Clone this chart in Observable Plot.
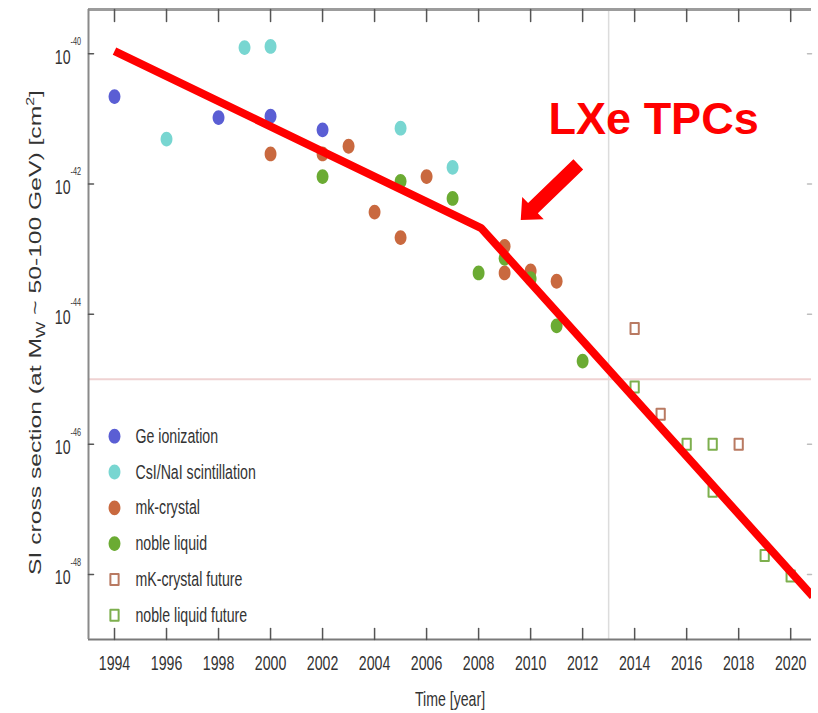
<!DOCTYPE html>
<html>
<head>
<meta charset="utf-8">
<script src="https://cdn.jsdelivr.net/npm/d3@7"></script>
<script src="https://cdn.jsdelivr.net/npm/@observablehq/plot@0.6"></script>
<style>
  html, body { margin: 0; padding: 0; background: #fff; }
  #chart svg { display: block; }
</style>
</head>
<body>
<div id="chart"></div>
<script>
// Spin-independent WIMP–nucleon cross-section limits by year and detector technology

// ---- data ----------------------------------------------------------------
const legendLabels = [
  "Ge ionization",
  "CsI/NaI scintillation",
  "mk-crystal",
  "noble liquid",
  "mK-crystal future",
  "noble liquid future"
];

const geYears = [1994, 1998, 2000, 2002];
const geSigma = [2.2e-41, 1.05e-41, 1.1e-41, 6.8e-42];

const csiYears = [1996, 1999, 2000, 2005, 2007];
const csiSigma = [4.9e-42, 1.25e-40, 1.3e-40, 7.2e-42, 1.8e-42];

const mkYears = [2000, 2002, 2003, 2004, 2005, 2006, 2009, 2009, 2010, 2011];
const mkSigma = [2.9e-42, 2.9e-42, 3.8e-42, 3.7e-43, 1.5e-43, 1.3e-42, 1.1e-43, 4.3e-44, 4.6e-44, 3.2e-44];

const nobleYears = [2002, 2005, 2007, 2008, 2009, 2010, 2011, 2012];
const nobleSigma = [1.3e-42, 1.1e-42, 6.0e-43, 4.3e-44, 7.2e-44, 3.5e-44, 6.6e-45, 1.9e-45];

const mkFutureYears = [2014, 2015, 2018];
const mkFutureSigma = [6.0e-45, 2.9e-46, 1.0e-46];

const nobleFutureYears = [2014, 2016, 2017, 2017, 2019, 2020];
const nobleFutureSigma = [7.6e-46, 1.0e-46, 1.0e-46, 1.9e-47, 1.95e-48, 9.5e-49];

// broken power-law trend drawn over the points
const trendYears = [1994, 2008.1, 2020.85];
const trendSigma = [1.1e-40, 2.1e-43, 4.6e-49];

// reference lines
const refYears = [2013];
const refSigma = [1e-45];

// axis ticks
const xTicks = d3.range(1994, 2021, 2);
const yTicks = [1e-40, 1e-42, 1e-44, 1e-46, 1e-48];

// annotation
const noteText = ["LXe TPCs"];
const noteYear = [2014.73];
const noteSigma = [9.9e-42];
const arrowTipYear = [2009.62];
const arrowTipSigma = [2.8e-43];

// ---- layout & style -------------------------------------------------------
const xDomain = [1993, 2020.8];
const yDomain = [1e-49, 4.8e-40];
const FONT = '"Liberation Sans", Arial, Helvetica, sans-serif';
const TEXT = "#333";
const SQUEEZE = 0.69;      // axis lettering is drawn narrow and tall
const TITLE_STRETCH = 1.45;
const Y_TITLE = "SI cross section";
const NOTE_FILL = "#ff0000";

const seriesStyle = [
  {fill: "#5a5ed4"},
  {fill: "#78d6d1"},
  {fill: "#c9693f"},
  {fill: "#6bab33"},
  {stroke: "#b97a62"},
  {stroke: "#7daf4e"}
];

// slightly tall ellipse for filled markers
const ellipse = {
  draw(ctx, size) {
    const r = Math.sqrt(size / Math.PI), rx = r * 0.9, ry = r * 1.12, k = 0.5523;
    ctx.moveTo(rx, 0);
    ctx.bezierCurveTo(rx, ry * k, rx * k, ry, 0, ry);
    ctx.bezierCurveTo(-rx * k, ry, -rx, ry * k, -rx, 0);
    ctx.bezierCurveTo(-rx, -ry * k, -rx * k, -ry, 0, -ry);
    ctx.bezierCurveTo(rx * k, -ry, rx, -ry * k, rx, 0);
    ctx.closePath();
  }
};
// slightly tall open square for projected sensitivities
const tallSquare = {
  draw(ctx, size) {
    const r = Math.sqrt(size / Math.PI), hx = r * 0.75, hy = r;
    ctx.moveTo(-hx, -hy);
    ctx.lineTo(hx, -hy);
    ctx.lineTo(hx, hy);
    ctx.lineTo(-hx, hy);
    ctx.closePath();
  }
};
// straight tick segment
const tickShape = {
  draw(ctx, l) { ctx.moveTo(0, 0); ctx.lineTo(0, -l); }
};
// filled block arrow
const blockArrow = {
  draw(ctx, l) {
    const sw = 7, hw = 15.5, hl = 17;
    ctx.moveTo(-sw, 0);
    ctx.lineTo(-sw, -(l - hl));
    ctx.lineTo(-hw, -(l - hl));
    ctx.lineTo(0, -l);
    ctx.lineTo(hw, -(l - hl));
    ctx.lineTo(sw, -(l - hl));
    ctx.lineTo(sw, 0);
    ctx.closePath();
  }
};

const toRows = (years, sigma) => years.map((year, i) => ({year, sigma: sigma[i]}));
const seriesRows = [
  toRows(geYears, geSigma),
  toRows(csiYears, csiSigma),
  toRows(mkYears, mkSigma),
  toRows(nobleYears, nobleSigma),
  toRows(mkFutureYears, mkFutureSigma),
  toRows(nobleFutureYears, nobleFutureSigma)
];
const trendRows = toRows(trendYears, trendSigma);

// legend rows sit in the lower-left corner, one every 0.55 decade
const legendYear = 1994;
const legendTop = 1.33e-46;
const legendRows = legendLabels.map((label, i) => ({
  label, i, year: legendYear, sigma: legendTop * Math.pow(10, -0.55 * i)
}));

const markerFor = (rows, s) => s.fill
  ? Plot.dot(rows, {x: "year", y: "sigma", r: 6.6, symbol: ellipse, fill: s.fill})
  : Plot.dot(rows, {x: "year", y: "sigma", r: 5.5, symbol: tallSquare, fill: "white", stroke: s.stroke, strokeWidth: 2, strokeLinejoin: "round"});

const seriesMarks = seriesRows.map((rows, i) => markerFor(rows, seriesStyle[i]));
const legendMarks = seriesStyle.map((s, i) => markerFor(legendRows.filter(d => d.i === i), s));

const chart = Plot.plot({
  width: 818,
  height: 713,
  marginTop: 9,
  marginRight: 7,
  marginBottom: 74,
  marginLeft: 88,
  style: {fontFamily: FONT, background: "#fff", color: TEXT, overflow: "visible"},
  x: {domain: xDomain, axis: null},
  y: {type: "log", domain: yDomain, axis: null},
  marks: [
    // reference lines
    Plot.ruleX(refYears, {stroke: "#dcdcdc", strokeWidth: 1.5}),
    Plot.ruleY(refSigma, {stroke: "#efd2d2", strokeWidth: 2}),

    // frame spines
    Plot.ruleY([yDomain[1]], {stroke: "#9c9c9c", strokeWidth: 3}),
    Plot.ruleY([yDomain[0]], {stroke: "#7a7a7a", strokeWidth: 2}),
    Plot.ruleX([xDomain[0]], {stroke: "#8a8a8a", strokeWidth: 2}),

    // inward ticks
    Plot.vector(xTicks, {x: d => d, frameAnchor: "bottom", anchor: "start", length: 11, rotate: 0, shape: tickShape, stroke: "#555", strokeWidth: 1.5}),
    Plot.vector(xTicks, {x: d => d, frameAnchor: "top", anchor: "start", length: 12, rotate: 180, shape: tickShape, stroke: "#555", strokeWidth: 1.5}),
    Plot.vector(yTicks, {y: d => d, frameAnchor: "left", anchor: "start", length: 5, rotate: 90, shape: tickShape, stroke: "#555", strokeWidth: 1.5}),
    Plot.vector(yTicks, {y: d => d, frameAnchor: "right", anchor: "start", length: 4, rotate: -90, shape: tickShape, stroke: "#bdbdbd", strokeWidth: 1.5}),

    // tick labels
    Plot.text(xTicks, {x: d => d, frameAnchor: "bottom", dy: 24, lineAnchor: "middle", text: d => String(d), fontSize: 20.5, fill: TEXT}),
    Plot.text(yTicks, {y: d => d, frameAnchor: "left", dx: -18, dy: 3.5, lineAnchor: "middle", textAnchor: "end", text: () => "10", fontSize: 20.5, fill: TEXT}),
    Plot.text(yTicks, {y: d => d, frameAnchor: "left", dx: -18, dy: -12, lineAnchor: "middle", textAnchor: "start", text: d => String(Math.round(Math.log10(d))), fontSize: 10.5, fill: TEXT}),

    // axis titles
    Plot.text(["Time [year]"], {frameAnchor: "bottom", dy: 60, lineAnchor: "middle", fontSize: 20.5, fill: TEXT}),
    Plot.text([Y_TITLE], {frameAnchor: "left", dx: -53, dy: 8, rotate: -90, lineAnchor: "middle", textAnchor: "start", fontSize: 17, fill: TEXT}),

    // measurements and projections
    ...seriesMarks,

    // legend
    ...legendMarks,
    Plot.text(legendRows, {x: "year", y: "sigma", text: "label", dx: 21, textAnchor: "start", lineAnchor: "middle", fontSize: 20.5, fill: TEXT}),

    // trend and annotation
    Plot.line(trendRows, {x: "year", y: "sigma", stroke: NOTE_FILL, strokeWidth: 8, strokeLinejoin: "miter", strokeLinecap: "butt", clip: true}),
    Plot.vector(arrowTipYear.map((year, i) => ({year, sigma: arrowTipSigma[i]})), {
      x: "year", y: "sigma", anchor: "end", length: 80, rotate: 226, shape: blockArrow, fill: NOTE_FILL, stroke: "none"
    }),
    Plot.text(noteText, {x: (d, i) => noteYear[i], y: (d, i) => noteSigma[i], text: d => d, fontSize: 45, fontWeight: "bold", fill: NOTE_FILL, lineAnchor: "middle"})
  ]
});

document.getElementById("chart").append(chart);

d3.select(chart).selectAll("text").each(function () {
  const content = this.textContent;
  if (noteText.includes(content)) return;
  if (content === Y_TITLE) {
    // y-axis title with subscript and superscript, drawn tall and centred by hand
    const t = d3.select(this);
    t.text(null);
    t.append("tspan").text("SI cross section (at M");
    t.append("tspan").attr("font-size", 12).attr("dy", 4).text("W");
    t.append("tspan").attr("dy", -4).text(" ~ 50-100 GeV) [cm");
    t.append("tspan").attr("font-size", 11).attr("dy", -7).text("2");
    t.append("tspan").attr("dy", 7).text("]");
    const len = this.getComputedTextLength() * TITLE_STRETCH;
    this.setAttribute("text-anchor", "start");
    this.setAttribute("x", (-len / 2).toFixed(2));
    this.setAttribute("textLength", len.toFixed(2));
    this.setAttribute("lengthAdjust", "spacingAndGlyphs");
    return;
  }
  // narrow, tall lettering for the axis and legend text
  const n = this.getComputedTextLength();
  this.setAttribute("textLength", (n * SQUEEZE).toFixed(2));
  this.setAttribute("lengthAdjust", "spacingAndGlyphs");
});
</script>
</body>
</html>
